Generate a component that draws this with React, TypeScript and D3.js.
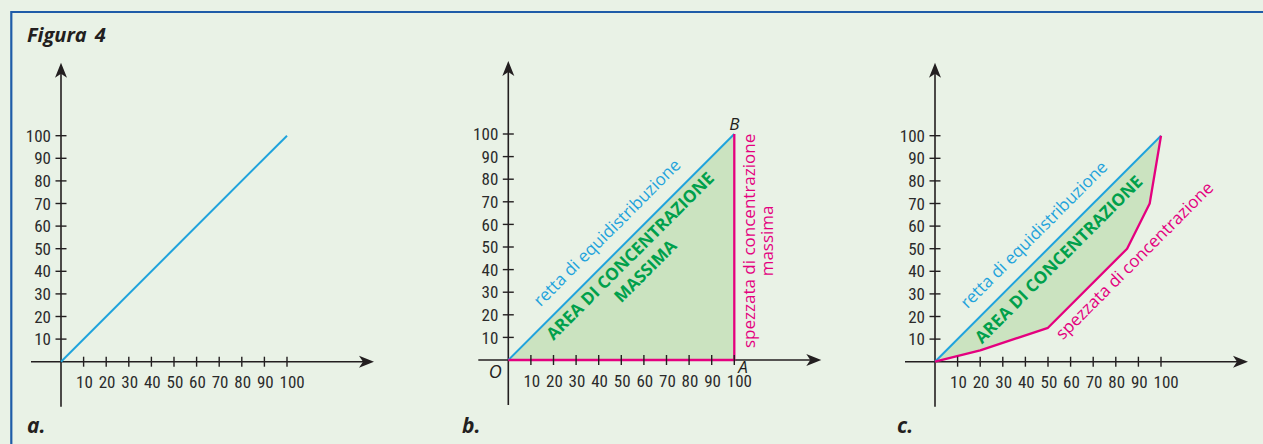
import * as React from "react";
import * as d3 from "d3";

const TICKS = [10, 20, 30, 40, 50, 60, 70, 80, 90, 100];

// retta di equidistribuzione
const equiX = [0, 100];
const equiY = [0, 100];

// spezzata di concentrazione massima (fig. b)
const maxX = [0, 100, 100];
const maxY = [0, 0, 100];

// spezzata di concentrazione (fig. c)
const lorenzX = [0, 20, 50, 85, 95, 100];
const lorenzY = [0, 5, 15, 50, 70, 100];

const C = {
  bg: "#e9f2e6",
  frame: "#1f5ca8",
  axis: "#231f20",
  num: "#2b2b2b",
  blue: "#1fa3dc",
  pink: "#e4007f",
  green: "#00a04b",
  fill: "#cbe3c0",
};

const NUM_FONT = "'Liberation Sans Narrow', 'Roboto Condensed', 'Open Sans', sans-serif";
const TXT_FONT = "'Open Sans', 'Noto Sans', sans-serif";

const W = 1263;
const H = 444;
const SIZE = 226;

type Pt = [number, number];
const zip = (xs: number[], ys: number[]): Pt[] => xs.map((v, i) => [v, ys[i]]);

type Scales = { x: d3.ScaleLinear<number, number>; y: d3.ScaleLinear<number, number> };

function Panel({
  ox,
  oy,
  letter,
  letterX,
  children,
}: {
  ox: number;
  oy: number;
  letter: string;
  letterX: number;
  children?: (s: Scales) => React.ReactNode;
}) {
  const x = d3.scaleLinear().domain([0, 100]).range([ox, ox + SIZE]);
  const y = d3.scaleLinear().domain([0, 100]).range([oy, oy - SIZE]);

  const xEnd = ox + 313;
  const yTop = oy - 299;

  return (
    <g>
      {/* x axis */}
      <line x1={ox - 30} x2={xEnd - 10} y1={oy} y2={oy} stroke={C.axis} strokeWidth={1.6} />
      <path
        d={`M${xEnd},${oy} L${xEnd - 15},${oy - 6} L${xEnd - 11},${oy} L${xEnd - 15},${oy + 6} Z`}
        fill={C.axis}
      />
      {/* y axis */}
      <line x1={ox} x2={ox} y1={oy + 45} y2={yTop + 10} stroke={C.axis} strokeWidth={1.6} />
      <path
        d={`M${ox},${yTop} L${ox - 6},${yTop + 15} L${ox},${yTop + 11} L${ox + 6},${yTop + 15} Z`}
        fill={C.axis}
      />

      {/* curves, areas and labels go over the axes */}
      {children ? children({ x, y }) : null}

      {/* tick marks on top of everything */}
      <g stroke={C.axis} strokeWidth={1.4}>
        {TICKS.map((t) => (
          <line key={`xt-${t}`} x1={x(t)} x2={x(t)} y1={oy - 5} y2={oy + 5} />
        ))}
        {TICKS.map((t) => (
          <line key={`yt-${t}`} x1={ox - 5.5} x2={ox + 5.5} y1={y(t)} y2={y(t)} />
        ))}
      </g>

      {/* tick labels */}
      {TICKS.map((t) => (
        <text
          key={`yl-${t}`}
          x={ox - 10}
          y={y(t)}
          dy="0.36em"
          textAnchor="end"
          fontFamily={NUM_FONT}
          fontSize={17}
          fill={C.num}
        >
          {t}
        </text>
      ))}
      {TICKS.map((t) => (
        <text
          key={`xl-${t}`}
          x={x(t) - 7.5}
          y={oy + 26.5}
          textAnchor="start"
          fontFamily={NUM_FONT}
          fontSize={17}
          fill={C.num}
        >
          {t}
        </text>
      ))}

      <text
        x={letterX}
        y={433}
        fontFamily={TXT_FONT}
        fontWeight={700}
        fontStyle="italic"
        fontSize={21}
        fill={C.axis}
      >
        {letter}
      </text>
    </g>
  );
}

function Rot({
  x,
  y,
  angle,
  children,
}: {
  x: number;
  y: number;
  angle: number;
  children: React.ReactNode;
}) {
  return <g transform={`translate(${x},${y}) rotate(${angle})`}>{children}</g>;
}

export default function App() {
  const line = (s: Scales) =>
    d3
      .line<Pt>()
      .x((d) => s.x(d[0]))
      .y((d) => s.y(d[1]));

  const equi = zip(equiX, equiY);
  const maxc = zip(maxX, maxY);
  const lorenz = zip(lorenzX, lorenzY);

  const lbl = {
    fontFamily: TXT_FONT,
    fontSize: 17,
    textAnchor: "middle" as const,
  };
  const area = {
    fontFamily: TXT_FONT,
    fontSize: 17,
    fontWeight: 700,
    textAnchor: "middle" as const,
    fill: C.green,
  };

  return (
    <svg
      width={W}
      height={H}
      style={{ position: "absolute", left: 0, top: 0 }}
      fontFamily={TXT_FONT}
    >
      <rect x={0} y={0} width={W} height={H} fill={C.bg} />
      {/* frame: only top and left edges fall inside the crop */}
      <path d={`M11.3,${H} L11.3,12 L${W},12`} fill="none" stroke={C.frame} strokeWidth={2.2} />

      <text x={27} y={42} fontFamily={TXT_FONT} fontWeight={700} fontStyle="italic" fontSize={20} fill={C.axis}>
        Figura
        <tspan dx={8}>4</tspan>
      </text>

      {/* a. */}
      <Panel ox={61} oy={361.7} letter="a." letterX={27}>
        {(s) => <path d={line(s)(equi) ?? ""} fill="none" stroke={C.blue} strokeWidth={2} />}
      </Panel>

      {/* b. */}
      <Panel ox={508.3} oy={360} letter="b." letterX={462}>
        {(s) => (
          <>
            <path d={(line(s)(maxc) ?? "") + "Z"} fill={C.fill} stroke="none" />
            <path d={line(s)(equi) ?? ""} fill="none" stroke={C.blue} strokeWidth={2} />
            <path d={line(s)(maxc) ?? ""} fill="none" stroke={C.pink} strokeWidth={2.3} />
            <Rot x={s.x(50)} y={s.y(50)} angle={-45}>
              <text y={-14.5} {...lbl} fill={C.blue}>
                retta di equidistribuzione
              </text>
              <text y={18.5} {...area}>
                AREA DI CONCENTRAZIONE
              </text>
              <text y={40} {...area}>
                MASSIMA
              </text>
            </Rot>
            <Rot x={s.x(100)} y={s.y(52.7)} angle={-90}>
              <text y={20.3} {...lbl} fill={C.pink}>
                spezzata di concentrazione
              </text>
              <text y={38.7} {...lbl} fill={C.pink}>
                massima
              </text>
            </Rot>
            <text x={s.x(0) - 13} y={s.y(0) + 18} textAnchor="middle" fontStyle="italic" fontSize={18} fill={C.axis}>
              O
            </text>
            <text x={s.x(100) + 4} y={s.y(0) + 12.5} fontStyle="italic" fontSize={17} fill={C.axis}>
              A
            </text>
            <text x={s.x(100) - 5} y={s.y(100) - 4.5} fontStyle="italic" fontSize={17} fill={C.axis}>
              B
            </text>
          </>
        )}
      </Panel>

      {/* c. */}
      <Panel ox={935} oy={361.7} letter="c." letterX={897}>
        {(s) => (
          <>
            <path d={(line(s)([...lorenz].reverse()) ?? "") + "Z"} fill={C.fill} stroke="none" />
            <path d={line(s)(equi) ?? ""} fill="none" stroke={C.blue} strokeWidth={2} />
            <path
              d={line(s)(lorenz) ?? ""}
              fill="none"
              stroke={C.pink}
              strokeWidth={2.3}
              strokeLinejoin="round"
            />
            <Rot x={s.x(50)} y={s.y(50)} angle={-45}>
              <text y={-14.1} {...lbl} fill={C.blue}>
                retta di equidistribuzione
              </text>
              <text y={21} {...area}>
                AREA DI CONCENTRAZIONE
              </text>
            </Rot>
            <Rot x={s.x(84)} y={s.y(49)} angle={-45}>
              <text y={19.5} {...lbl} fill={C.pink}>
                spezzata di concentrazione
              </text>
            </Rot>
          </>
        )}
      </Panel>
    </svg>
  );
}
